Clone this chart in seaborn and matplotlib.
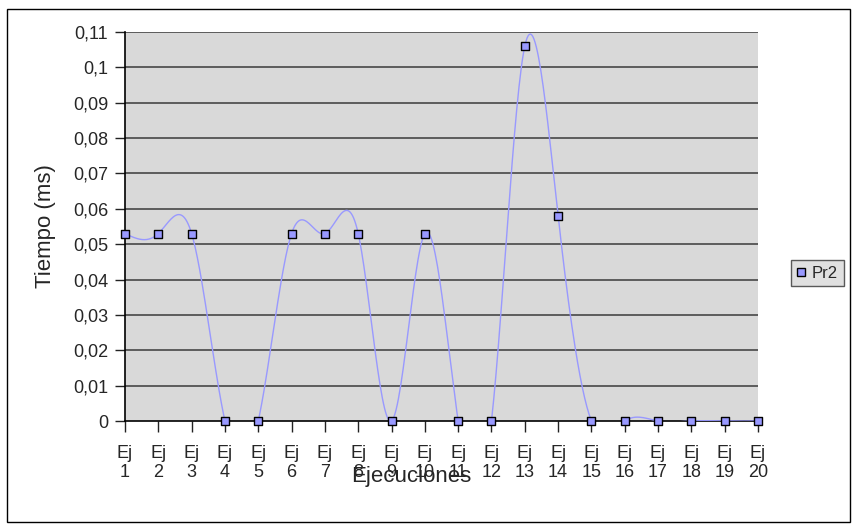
import numpy as np
import pandas as pd
import matplotlib
matplotlib.use("Agg")
import matplotlib.pyplot as plt
from matplotlib.patches import Rectangle
import seaborn as sns

# Execution times per run (ms)
ejecuciones = [f"Ej\n{i}" for i in range(1, 21)]
pr2 = [0.053, 0.053, 0.053, 0.0, 0.0, 0.053, 0.053, 0.053, 0.0, 0.053,
       0.0, 0.0, 0.106, 0.058, 0.0, 0.0, 0.0, 0.0, 0.0, 0.0]
y_ticks = [0.0, 0.01, 0.02, 0.03, 0.04, 0.05, 0.06, 0.07, 0.08, 0.09, 0.10, 0.11]
y_labels = ["0", "0,01", "0,02", "0,03", "0,04", "0,05", "0,06", "0,07",
            "0,08", "0,09", "0,1", "0,11"]
serie = "Pr2"

sns.set_theme(style="white")
plt.rcParams["font.family"] = ["Liberation Sans", "DejaVu Sans"]

W, H = 852, 531
fig = plt.figure(figsize=(W / 100, H / 100), dpi=100)
left, right, top, bottom = 125, 758, 32, 421
ax = fig.add_axes([left / W, 1 - bottom / H, (right - left) / W, (bottom - top) / H])

df = pd.DataFrame({"pos": np.arange(len(pr2)), "valor": pr2, "serie": serie})


def natural_spline(x, y, n=30):
    """Natural cubic spline through equally spaced points."""
    x = np.asarray(x, float)
    y = np.asarray(y, float)
    m = len(y)
    A = np.zeros((m, m))
    r = np.zeros(m)
    A[0, 0] = A[-1, -1] = 1.0
    for i in range(1, m - 1):
        A[i, i - 1], A[i, i], A[i, i + 1] = 1.0, 4.0, 1.0
        r[i] = 6.0 * (y[i + 1] - 2 * y[i] + y[i - 1])
    M = np.linalg.solve(A, r)
    xs, ys = [], []
    for i in range(m - 1):
        t = np.linspace(0, 1, n)
        if i > 0:
            t = t[1:]
        yy = ((1 - t) * y[i] + t * y[i + 1]
              + ((1 - t) ** 3 - (1 - t)) * M[i] / 6.0
              + (t ** 3 - t) * M[i + 1] / 6.0)
        xs.append(x[i] + t * (x[i + 1] - x[i]))
        ys.append(yy)
    return np.concatenate(xs), np.concatenate(ys)


cx, cy = natural_spline(df["pos"], df["valor"])
curve = pd.DataFrame({"pos": cx, "valor": cy})

ax.set_facecolor("#d9d9d9")
for v in y_ticks[1:]:
    ax.axhline(v, color="#3a3a3a", lw=1.1, zorder=1)

sns.lineplot(data=curve, x="pos", y="valor", ax=ax, color="#9999ff",
             lw=1.0, sort=False, estimator=None, zorder=3, legend=False)
sns.scatterplot(data=df, x="pos", y="valor", ax=ax, marker="s", s=32,
                color="#9999ff", edgecolor="black", linewidth=1.0,
                zorder=5, clip_on=False, legend=False)

ax.set_xlim(0, len(pr2) - 1)
ax.set_ylim(0, 0.11)
ax.set_yticks(y_ticks)
ax.set_yticklabels(y_labels, fontsize=13)
ax.set_xticks(df["pos"])
ax.set_xticklabels(ejecuciones, fontsize=13, linespacing=1.15)
ax.tick_params(axis="y", direction="out", length=7, width=1, color="#222222", pad=5, left=True)
ax.tick_params(axis="x", direction="out", length=8, width=1, color="#222222", pad=9, bottom=True)

for s in ["top", "right"]:
    ax.spines[s].set_visible(False)
for s in ["left", "bottom"]:
    ax.spines[s].set_color("black")
    ax.spines[s].set_linewidth(1.2)

ax.set_xlabel("Ejecuciones", fontsize=16)
ax.xaxis.set_label_coords((411 - left) / (right - left), -(466 - bottom) / (bottom - top))
ax.set_ylabel("Tiempo (ms)", fontsize=16)
ax.yaxis.set_label_coords(-(left - 56) / (right - left), 0.5)

# Legend
handle = plt.Line2D([], [], marker="s", ls="none", markersize=6,
                    markerfacecolor="#9999ff", markeredgecolor="black", markeredgewidth=1.0)
leg = fig.legend([handle], [serie], loc="center",
                 bbox_to_anchor=(817.5 / W, 1 - 273 / H), fontsize=12,
                 frameon=True, fancybox=False, handlelength=0.5,
                 handletextpad=0.4, borderpad=0.35, borderaxespad=0)
leg.get_frame().set_facecolor("#d9d9d9")
leg.get_frame().set_edgecolor("#333333")
leg.get_frame().set_linewidth(1.0)

# Chart area border
fig.patches.append(Rectangle((7 / W, 1 - 522 / H), (850 - 7) / W, (522 - 9) / H,
                             transform=fig.transFigure, fill=False,
                             edgecolor="black", lw=1.0))

fig.savefig("out.png", dpi=100, facecolor="white")
